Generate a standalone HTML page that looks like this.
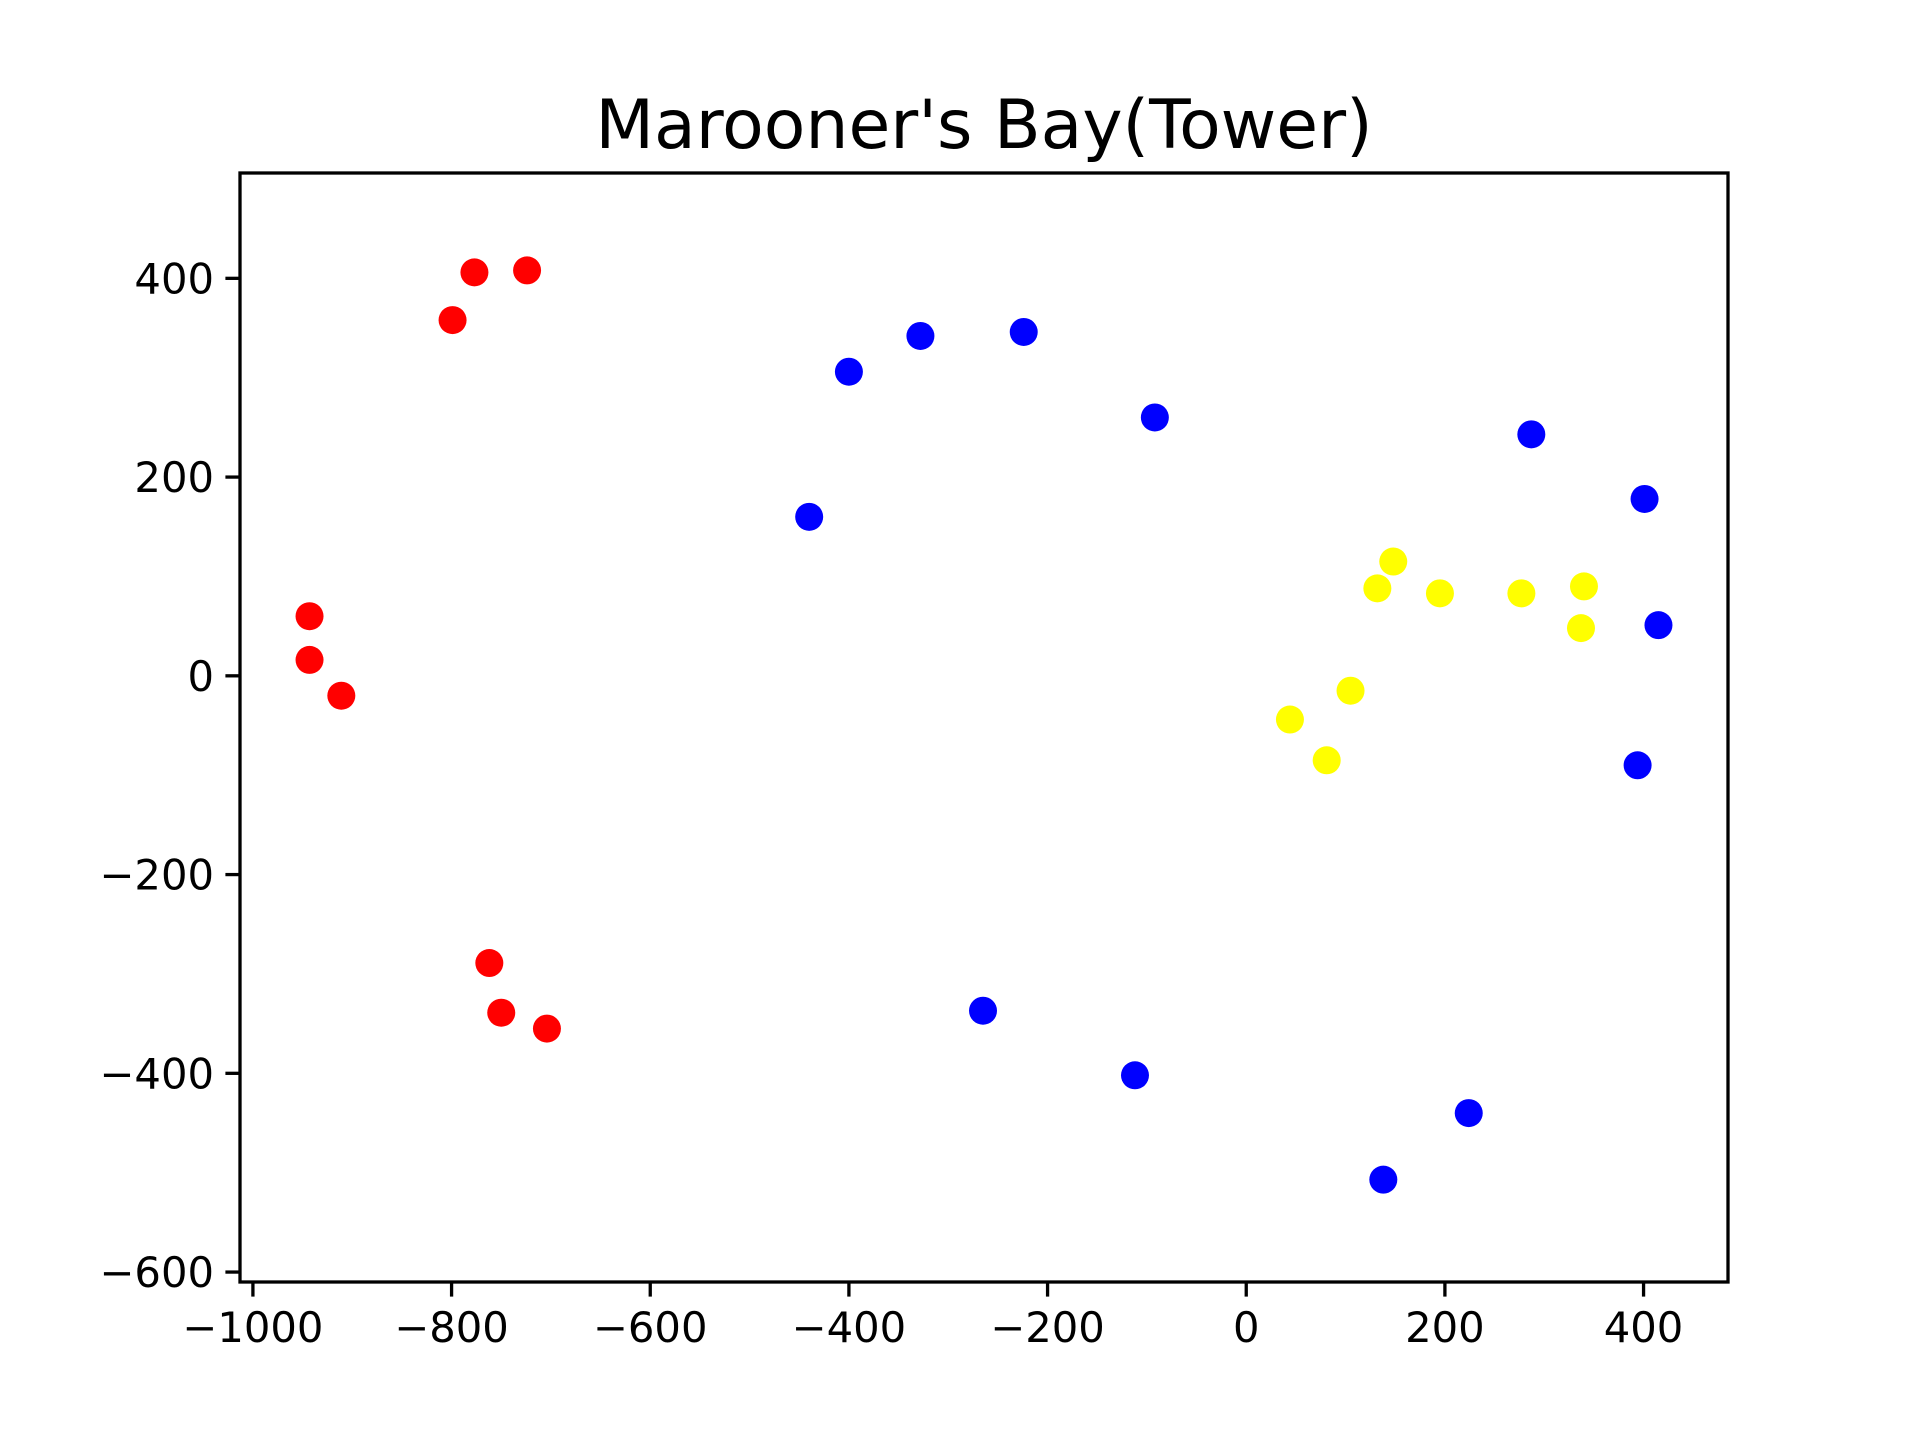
<!DOCTYPE html>
<html><head><meta charset="utf-8"><style>body{margin:0;background:#fff}</style></head>
<body>
<svg id="chart" width="1920" height="1440" xmlns="http://www.w3.org/2000/svg" font-family="'DejaVu Sans','Liberation Sans',sans-serif">
<rect width="1920" height="1440" fill="#fff"/>
<text x="984" y="148" font-size="68" text-anchor="middle">Marooner's Bay(Tower)</text>
<g id="marks"></g>
<g id="axes"></g>
</svg>
<script>
const redX=[-943,-943,-911,-799,-777,-724,-762,-750,-704];
const redY=[60,16,-20,358,406,408,-289,-339,-355];
const blueX=[-440,-400,-328,-224,-92,287,401,415,394,-265,-112,224,138];
const blueY=[160,306,342,346,260,243,178,51,-90,-337,-402,-440,-507];
const yellowX=[44,81,105,132,148,195,277,340,337];
const yellowY=[-44,-85,-15,88,115,83,83,90,48];
const xTicks=[-1000,-800,-600,-400,-200,0,200,400];
const yTicks=[-600,-400,-200,0,200,400];
const L=240,R=1728,T=173,B=1282;
const xMin=-1013,xMax=485,yMin=-610,yMax=506;
const sx=v=>L+(v-xMin)/(xMax-xMin)*(R-L);
const sy=v=>B-(v-yMin)/(yMax-yMin)*(B-T);
const NS='http://www.w3.org/2000/svg';
const marks=document.getElementById('marks'),axes=document.getElementById('axes');
function mk(t,a,p){const e=document.createElementNS(NS,t);for(const k in a)e.setAttribute(k,a[k]);p.appendChild(e);return e;}
[[redX,redY,'#ff0000','red'],[blueX,blueY,'#0000ff','blue'],[yellowX,yellowY,'#ffff00','yellow']].forEach(([xs,ys,c,n])=>{
  xs.forEach((x,i)=>{const e=mk('circle',{cx:sx(x),cy:sy(ys[i]),r:14,fill:c},marks);
    
    });
});
const f=mk('rect',{x:L,y:T,width:R-L,height:B-T,fill:'none',stroke:'#000','stroke-width':3.3},axes);


const lab=v=>v<0?'\u2212'+(-v):''+v;
xTicks.forEach(v=>{const x=sx(v);
  mk('line',{x1:x,x2:x,y1:B,y2:B+14.6,stroke:'#000','stroke-width':3.3},axes);
  const t=mk('text',{x:x,y:B+60,'font-size':41.7,'text-anchor':'middle'},axes);t.textContent=lab(v);
  
  });
yTicks.forEach(v=>{const y=sy(v);
  mk('line',{x1:L-14.6,x2:L,y1:y,y2:y,stroke:'#000','stroke-width':3.3},axes);
  const t=mk('text',{x:L-26,y:y+15,'font-size':41.7,'text-anchor':'end'},axes);t.textContent=lab(v);
  
  });
</script>
</body></html>
